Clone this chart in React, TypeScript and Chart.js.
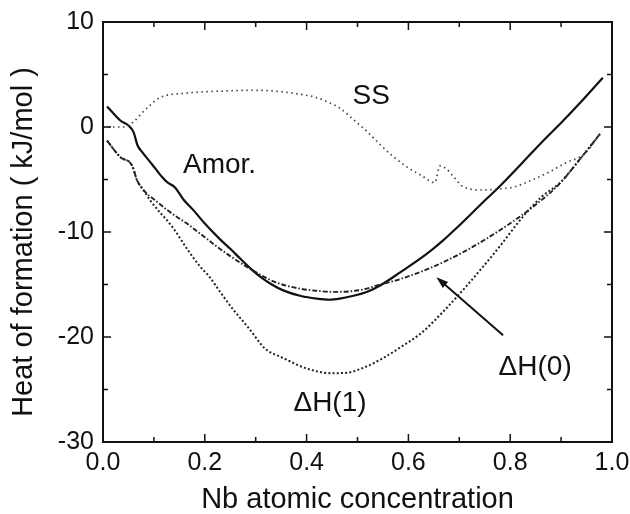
import React, { useEffect, useRef } from "react";
import { Chart, registerables } from "chart.js";

Chart.register(...registerables);

// ---- data ----
const amorX = [0.008, 0.034, 0.05, 0.06, 0.068, 0.077, 0.097, 0.116, 0.126, 0.141, 0.158, 0.178, 0.2, 0.23, 0.25, 0.271, 0.295, 0.31, 0.33, 0.354, 0.389, 0.42, 0.445, 0.465, 0.49, 0.518, 0.547, 0.583, 0.634, 0.666, 0.705, 0.745, 0.776, 0.824, 0.863, 0.903, 0.942, 0.982];
const amorY = [1.96, 0.62, 0.15, -0.49, -1.76, -2.39, -3.59, -4.77, -5.25, -5.73, -6.9, -7.94, -9.2, -10.7, -11.6, -12.6, -13.7, -14.3, -14.95, -15.56, -16.1, -16.35, -16.45, -16.35, -16.1, -15.72, -15.02, -13.87, -12.16, -10.89, -9.14, -7.24, -5.81, -3.4, -1.4, 0.55, 2.55, 4.7];

const dh0X = [0.008, 0.034, 0.057, 0.067, 0.08, 0.103, 0.126, 0.14, 0.165, 0.192, 0.224, 0.25, 0.282, 0.31, 0.34, 0.387, 0.42, 0.452, 0.485, 0.518, 0.537, 0.583, 0.649, 0.714, 0.779, 0.845, 0.897, 0.943, 0.979];
const dh0Y = [-1.3, -2.87, -3.66, -5.09, -6.04, -7.0, -7.9, -8.4, -9.2, -10.2, -11.4, -12.3, -13.3, -14.1, -14.8, -15.4, -15.6, -15.7, -15.65, -15.4, -15.1, -14.5, -13.3, -11.75, -9.85, -7.6, -5.4, -2.7, -0.5];

const dh1X = [0.008, 0.034, 0.057, 0.067, 0.08, 0.093, 0.113, 0.126, 0.139, 0.165, 0.191, 0.208, 0.23, 0.256, 0.287, 0.309, 0.318, 0.354, 0.4, 0.45, 0.48, 0.518, 0.547, 0.587, 0.626, 0.666, 0.705, 0.745, 0.779, 0.824, 0.863, 0.897, 0.943, 0.979];
const dh1Y = [-1.3, -2.87, -3.66, -5.09, -6.04, -7.0, -8.2, -8.9, -9.7, -11.6, -13.3, -14.2, -15.7, -17.4, -19.2, -20.6, -21.1, -22.0, -23.0, -23.45, -23.4, -22.8, -22.1, -20.9, -19.6, -17.7, -15.65, -13.4, -11.4, -8.6, -6.6, -5.35, -2.7, -0.5];

const ssX = [0.0, 0.042, 0.06, 0.08, 0.112, 0.158, 0.2, 0.25, 0.289, 0.33, 0.361, 0.39, 0.42, 0.445, 0.465, 0.49, 0.518, 0.545, 0.57, 0.6, 0.625, 0.652, 0.662, 0.675, 0.688, 0.708, 0.746, 0.779, 0.808, 0.845, 0.88, 0.91, 0.945, 0.98];
const ssY = [0.0, 0.0, 0.5, 1.5, 2.8, 3.2, 3.35, 3.45, 3.5, 3.45, 3.3, 3.1, 2.8, 2.3, 1.8, 0.8, -0.4, -1.7, -2.8, -3.9, -4.6, -5.3, -3.7, -4.0, -4.7, -5.7, -6.0, -5.9, -5.7, -5.0, -4.2, -3.4, -2.6, -0.45];

// axis ticks
const xMajorTicks = [0, 0.2, 0.4, 0.6, 0.8, 1.0];
const xMinorTicks = [0.1, 0.3, 0.5, 0.7, 0.9];
const yMajorTicks = [10, 0, -10, -20, -30];
const yMinorTicks = [5, -5, -15, -25];

// annotations (data coordinates)
const labelTexts = ["SS", "Amor.", "\u0394H(1)", "\u0394H(0)"];
const labelX = [0.527, 0.229, 0.446, 0.849];
const labelY = [2.95, -3.65, -26.3, -22.9];
const arrowFrom = [0.786, -19.84];
const arrowTo = [0.655, -14.3];

const xTitle = "Nb atomic concentration";
const yTitle = "Heat of formation ( kJ/mol )";

const FONT = '"Liberation Sans", Arial, Helvetica, sans-serif';

const zip = (xs: number[], ys: number[]) => xs.map((x, i) => ({ x, y: ys[i] }));

const decorPlugin = {
  id: "decor",
  afterDatasetsDraw(chart: any) {
    const { ctx, chartArea, scales } = chart;
    const { left, right, top, bottom } = chartArea;
    const xs = scales.x;
    const ys = scales.y;
    ctx.save();
    ctx.strokeStyle = "#111";
    ctx.lineWidth = 2;
    ctx.strokeRect(left, top, right - left, bottom - top);

    ctx.lineWidth = 1.5;
    const drawX = (v: number, len: number) => {
      const p = xs.getPixelForValue(v);
      ctx.beginPath();
      ctx.moveTo(p, bottom);
      ctx.lineTo(p, bottom - len);
      ctx.moveTo(p, top);
      ctx.lineTo(p, top + len);
      ctx.stroke();
    };
    const drawY = (v: number, len: number) => {
      const p = ys.getPixelForValue(v);
      ctx.beginPath();
      ctx.moveTo(left, p);
      ctx.lineTo(left + len, p);
      ctx.moveTo(right, p);
      ctx.lineTo(right - len, p);
      ctx.stroke();
    };
    xMajorTicks.forEach((v) => drawX(v, 8));
    xMinorTicks.forEach((v) => drawX(v, 5));
    yMajorTicks.forEach((v) => drawY(v, 8));
    yMinorTicks.forEach((v) => drawY(v, 5));

    // annotations
    ctx.fillStyle = "#111";
    ctx.font = `28px ${FONT}`;
    ctx.textAlign = "center";
    ctx.textBaseline = "middle";
    labelTexts.forEach((t, i) => {
      ctx.fillText(t, xs.getPixelForValue(labelX[i]), ys.getPixelForValue(labelY[i]));
    });

    // arrow
    const x0 = xs.getPixelForValue(arrowFrom[0]);
    const y0 = ys.getPixelForValue(arrowFrom[1]);
    const x1 = xs.getPixelForValue(arrowTo[0]);
    const y1 = ys.getPixelForValue(arrowTo[1]);
    const ang = Math.atan2(y1 - y0, x1 - x0);
    const hl = 12;
    const hw = 4;
    ctx.lineWidth = 2;
    ctx.beginPath();
    ctx.moveTo(x0, y0);
    ctx.lineTo(x1 - Math.cos(ang) * hl * 0.8, y1 - Math.sin(ang) * hl * 0.8);
    ctx.stroke();
    ctx.beginPath();
    ctx.moveTo(x1, y1);
    ctx.lineTo(x1 - Math.cos(ang) * hl - Math.sin(ang) * hw, y1 - Math.sin(ang) * hl + Math.cos(ang) * hw);
    ctx.lineTo(x1 - Math.cos(ang) * hl + Math.sin(ang) * hw, y1 - Math.sin(ang) * hl - Math.cos(ang) * hw);
    ctx.closePath();
    ctx.fill();

    // y axis title
    ctx.save();
    ctx.translate(24, 242);
    ctx.rotate(-Math.PI / 2);
    ctx.font = `29px ${FONT}`;
    ctx.textAlign = "center";
    ctx.textBaseline = "middle";
    ctx.fillText(yTitle, 0, 0);
    ctx.restore();

    ctx.restore();
  },
};

export default function App() {
  const ref = useRef<HTMLCanvasElement | null>(null);

  useEffect(() => {
    if (!ref.current) return;
    const common = { pointRadius: 0, fill: false, cubicInterpolationMode: "monotone" as const };
    const chart = new Chart(ref.current, {
      type: "line",
      data: {
        datasets: [
          { ...common, label: "SS", data: zip(ssX, ssY), borderColor: "#444", borderWidth: 1.7, borderDash: [1.5, 3.5] },
          { ...common, label: "dH1", data: zip(dh1X, dh1Y), borderColor: "#222", borderWidth: 2, borderDash: [2, 2.2] },
          { ...common, label: "dH0", data: zip(dh0X, dh0Y), borderColor: "#222", borderWidth: 1.9, borderDash: [5, 2, 1.5, 2] },
          { ...common, label: "Amor.", data: zip(amorX, amorY), borderColor: "#111", borderWidth: 2.2 },
        ],
      },
      options: {
        animation: false,
        responsive: false,
        devicePixelRatio: 1,
        layout: { padding: { left: 0, top: 22, right: 18, bottom: 0 } },
        plugins: { legend: { display: false }, tooltip: { enabled: false } },
        scales: {
          x: {
            type: "linear",
            min: 0,
            max: 1,
            grid: { display: false, drawTicks: false },
            border: { display: false },
            ticks: {
              stepSize: 0.2,
              padding: 6,
              color: "#111",
              font: { family: FONT, size: 25 },
              maxRotation: 0,
              callback: (v: any) => Number(v).toFixed(1),
            },
            title: {
              display: true,
              text: xTitle,
              color: "#111",
              font: { family: FONT, size: 29, lineHeight: 1.0 },
              padding: { top: 0, bottom: 0 },
            },
            afterFit: (s: any) => {
              s.height = 72;
              s.paddingLeft = 0;
              s.paddingRight = 0;
            },
          },
          y: {
            type: "linear",
            min: -30,
            max: 10,
            grid: { display: false, drawTicks: false },
            border: { display: false },
            ticks: {
              stepSize: 10,
              padding: 9,
              color: "#111",
              font: { family: FONT, size: 25 },
              callback: (v: any) => String(v),
            },
            afterFit: (s: any) => {
              s.width = 103;
              s.paddingTop = 0;
              s.paddingBottom = 0;
            },
          },
        },
      },
      plugins: [decorPlugin],
    });
    return () => chart.destroy();
  }, []);

  return (
    <div style={{ position: "absolute", left: 0, top: 0, width: 630, height: 514, background: "#fff" }}>
      <canvas ref={ref} width={630} height={514} style={{ display: "block" }} />
    </div>
  );
}
